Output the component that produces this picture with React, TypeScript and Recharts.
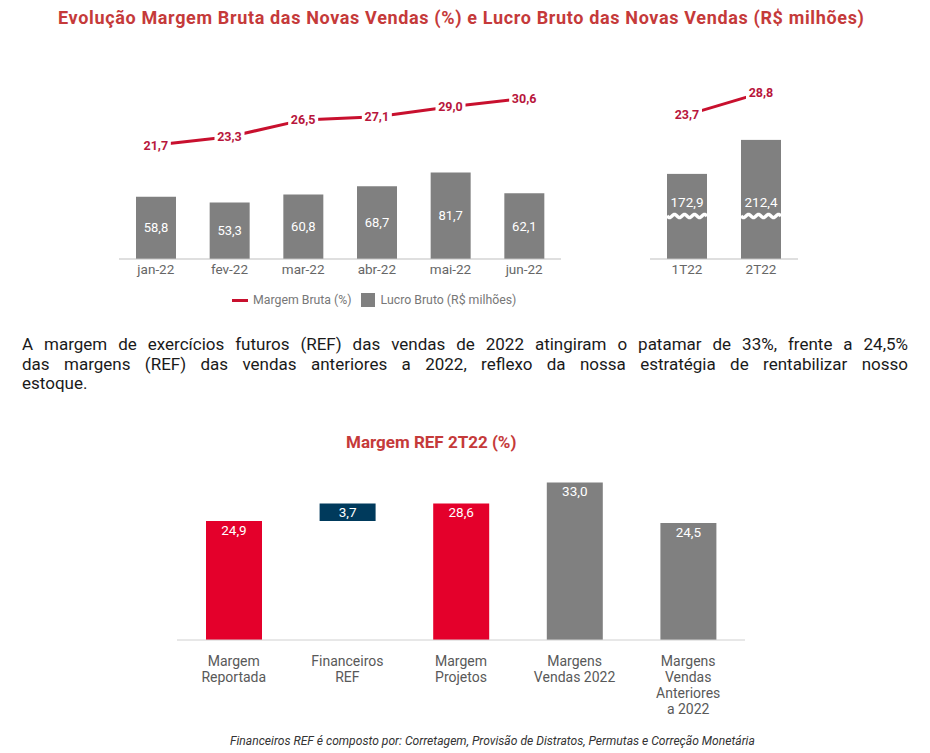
import React from "react";
import {
  ComposedChart,
  BarChart,
  Bar,
  Line,
  XAxis,
  YAxis,
  Cell,
  LabelList,
} from "recharts";

// monthly chart
const months = ["jan-22", "fev-22", "mar-22", "abr-22", "mai-22", "jun-22"];
const margemBruta = [21.7, 23.3, 26.5, 27.1, 29.0, 30.6];
const lucroBruto = [58.8, 53.3, 60.8, 68.7, 81.7, 62.1];

// quarterly chart
const quarters = ["1T22", "2T22"];
const margemTri = [23.7, 28.8];
const lucroTri = [172.9, 212.4];

// REF margin chart
const refCategories = [
  "Margem\nReportada",
  "Financeiros\nREF",
  "Margem\nProjetos",
  "Margens\nVendas 2022",
  "Margens\nVendas\nAnteriores\na 2022",
];
const refValues = [24.9, 3.7, 28.6, 33.0, 24.5];
const refBase = [0, 24.9, 0, 0, 0];

const REF_COLORS = ["#e4002b", "#003a5c", "#e4002b", "#808080", "#808080"];
const LINE_RED = "#c8102e";
const LABEL_RED = "#b8163c";
const GRAY = "#808080";
const FONT = "Roboto, 'Open Sans', sans-serif";

const fmt = (v: number) => Number(v).toFixed(1).replace(".", ",");

const monthData = months.map((m, i) => ({
  name: m,
  margem: margemBruta[i],
  lucro: lucroBruto[i],
}));
const quarterData = quarters.map((q, i) => ({
  name: q,
  margem: margemTri[i],
  lucro: lucroTri[i],
}));
const refData = refCategories.map((c, i) => ({
  name: c,
  value: refValues[i],
  range: [refBase[i], refBase[i] + refValues[i]],
}));

function LineLabel(props: any) {
  const vb = props.viewBox || {};
  const x = props.x ?? vb.x;
  const y = props.y ?? vb.y;
  if (x == null || y == null) return null;
  const txt = fmt(props.value);
  const w = txt.length * 7 + 2;
  return (
    <g>
      <rect x={x - w / 2} y={y - 8} width={w} height={16} fill="#fff" />
      <text
        x={x}
        y={y}
        dy={4.5}
        textAnchor="middle"
        fontSize={12.5}
        fontWeight={700}
        fill={LABEL_RED}
        fontFamily={FONT}
      >
        {txt}
      </text>
    </g>
  );
}

// bar with an axis-break mark drawn across it
function BrokenBar(props: any) {
  const { x, y, width, height, payload } = props;
  const by = y + height - 43;
  const pts: string[] = [];
  for (let i = 0; i <= 40; i++) {
    const px = x + (width * i) / 40;
    const py = by + 1.6 * Math.sin((i / 40) * Math.PI * 2 * 4);
    pts.push(`${px},${py}`);
  }
  return (
    <g>
      <rect x={x} y={y} width={width} height={height} fill={GRAY} />
      <polyline points={pts.join(" ")} fill="none" stroke="#fff" strokeWidth={3.5} />
      <text
        x={x + width / 2}
        y={by - 14}
        dy={4.5}
        textAnchor="middle"
        fontSize={13.5}
        fill="#fff"
        fontFamily={FONT}
      >
        {fmt(payload.lucro)}
      </text>
    </g>
  );
}

function RefTick(props: any) {
  const { x, y, payload } = props;
  const lines = String(payload.value).split("\n");
  return (
    <text x={x} y={y} textAnchor="middle" fontSize={14} fill="#595959" fontFamily={FONT}>
      {lines.map((l, i) => (
        <tspan key={i} x={x} dy={i === 0 ? 26 : 16}>
          {l}
        </tspan>
      ))}
    </text>
  );
}

const tickStyle = { fontSize: 13.5, fill: "#666", fontFamily: FONT };

export default function App() {
  return (
    <div
      style={{
        position: "absolute",
        left: 0,
        top: 0,
        width: 930,
        height: 753,
        background: "#fff",
        fontFamily: FONT,
        overflow: "hidden",
      }}
    >
      <div
        style={{
          position: "absolute",
          left: 58,
          top: 7,
          fontSize: 18,
          letterSpacing: 0.65,
          fontWeight: 700,
          color: "#c53a3a",
          whiteSpace: "nowrap",
          lineHeight: "22px",
        }}
      >
        Evolução Margem Bruta das Novas Vendas (%) e Lucro Bruto das Novas Vendas (R$ milhões)
      </div>

      <div style={{ position: "absolute", left: 99, top: 60 }}>
        <ComposedChart
          width={482}
          height={229}
          data={monthData}
          margin={{ top: 20, right: 20, left: 20, bottom: 0 }}
        >
          <XAxis
            dataKey="name"
            axisLine={{ stroke: "#bfbfbf" }}
            tickLine={false}
            tickSize={0}
            tickMargin={5}
            tick={tickStyle}
            height={30}
          />
          <YAxis yAxisId="bar" hide domain={[0, 169]} />
          <YAxis yAxisId="line" hide domain={[0, 34.1]} />
          <Bar yAxisId="bar" dataKey="lucro" fill={GRAY} barSize={40} isAnimationActive={false}>
            <LabelList
              dataKey="lucro"
              position="center"
              fill="#fff"
              fontSize={13}
              fontFamily={FONT}
              formatter={(v: any) => fmt(v)}
            />
          </Bar>
          <Line
            yAxisId="line"
            dataKey="margem"
            stroke={LINE_RED}
            strokeWidth={3}
            dot={false}
            isAnimationActive={false}
          >
            <LabelList dataKey="margem" content={<LineLabel />} />
          </Line>
        </ComposedChart>
      </div>

      <div style={{ position: "absolute", left: 630, top: 60 }}>
        <ComposedChart
          width={190}
          height={229}
          data={quarterData}
          margin={{ top: 20, right: 22, left: 20, bottom: 0 }}
        >
          <XAxis
            dataKey="name"
            axisLine={{ stroke: "#bfbfbf" }}
            tickLine={false}
            tickSize={0}
            tickMargin={5}
            tick={tickStyle}
            height={30}
          />
          <YAxis yAxisId="bar" hide domain={[74, 282]} allowDataOverflow />
          <YAxis yAxisId="line" hide domain={[-9.8, 31.8]} allowDataOverflow />
          <Bar
            yAxisId="bar"
            dataKey="lucro"
            fill={GRAY}
            barSize={40}
            shape={<BrokenBar />}
            isAnimationActive={false}
          />
          <Line
            yAxisId="line"
            dataKey="margem"
            stroke={LINE_RED}
            strokeWidth={3}
            dot={false}
            isAnimationActive={false}
          >
            <LabelList dataKey="margem" content={<LineLabel />} />
          </Line>
        </ComposedChart>
      </div>

      <div
        style={{
          position: "absolute",
          left: 232,
          top: 292,
          display: "flex",
          alignItems: "center",
          fontSize: 12.3,
          color: "#777",
          whiteSpace: "nowrap",
          height: 16,
        }}
      >
        <span style={{ display: "inline-block", width: 16, height: 3, background: LINE_RED, marginRight: 5 }} />
        <span style={{ marginRight: 9 }}>Margem Bruta (%)</span>
        <span style={{ display: "inline-block", width: 14, height: 14, background: GRAY, marginRight: 6 }} />
        <span>Lucro Bruto (R$ milhões)</span>
      </div>

      <div
        style={{
          position: "absolute",
          left: 22,
          top: 335,
          width: 886,
          fontSize: 17,
          lineHeight: "19.5px",
          color: "#1a1a1a",
        }}
      >
        <div style={{ textAlign: "justify", textAlignLast: "justify" }}>
          A margem de exercícios futuros (REF) das vendas de 2022 atingiram o patamar de 33%, frente a 24,5%
        </div>
        <div style={{ textAlign: "justify", textAlignLast: "justify" }}>
          das margens (REF) das vendas anteriores a 2022, reflexo da nossa estratégia de rentabilizar nosso
        </div>
        <div>estoque.</div>
      </div>

      <div
        style={{
          position: "absolute",
          left: 346,
          top: 432,
          fontSize: 17,
          fontWeight: 700,
          color: "#c53a3a",
          whiteSpace: "nowrap",
          lineHeight: "20px",
        }}
      >
        Margem REF 2T22 (%)
      </div>

      <div style={{ position: "absolute", left: 157, top: 450 }}>
        <BarChart
          width={608}
          height={270}
          data={refData}
          margin={{ top: 10, right: 20, left: 20, bottom: 0 }}
        >
          <XAxis
            dataKey="name"
            axisLine={{ stroke: "#d0d0d0" }}
            tickLine={false}
            tickSize={0}
            tickMargin={0}
            tick={<RefTick />}
            height={80}
            interval={0}
          />
          <YAxis hide domain={[0, 37.7]} />
          <Bar dataKey="range" barSize={56} isAnimationActive={false}>
            {refData.map((_, i) => (
              <Cell key={i} fill={REF_COLORS[i]} />
            ))}
            <LabelList
              dataKey="value"
              position="insideTop"
              offset={4}
              fill="#fff"
              fontSize={13.5}
              fontFamily={FONT}
              formatter={(v: any) => fmt(v)}
            />
          </Bar>
        </BarChart>
      </div>

      <div
        style={{
          position: "absolute",
          left: 230,
          top: 734,
          fontSize: 12.1,
          fontStyle: "italic",
          color: "#333",
          whiteSpace: "nowrap",
          lineHeight: "14px",
        }}
      >
        Financeiros REF é composto por: Corretagem, Provisão de Distratos, Permutas e Correção Monetária
      </div>
    </div>
  );
}
